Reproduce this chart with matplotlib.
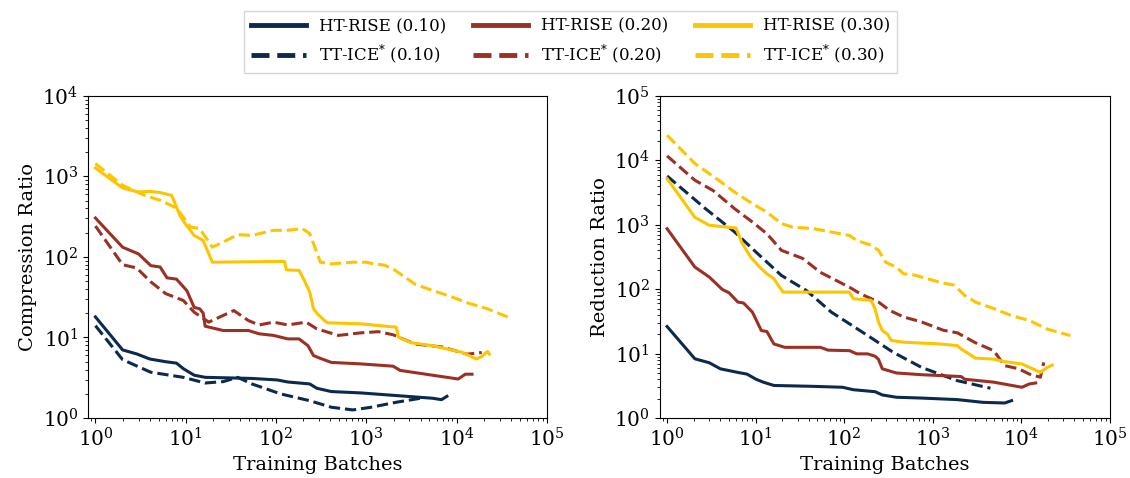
import matplotlib
matplotlib.use("Agg")
import matplotlib.pyplot as plt
from matplotlib.lines import Line2D
import numpy as np

plt.rcParams['font.family'] = 'DejaVu Serif'
plt.rcParams['mathtext.fontset'] = 'dejavuserif'

navy = '#0b2a4e'
red = '#9b3124'
gold = '#fcc500'

# ---- compression ratio (left) ----
cr_ht10_x = [1, 2, 2.86, 4, 6, 7.9, 9.4, 12.4, 16.4, 54, 103, 135, 236, 283, 410, 860, 2150, 5400, 6800, 7800]
cr_ht10_y = [18, 7.0, 6.25, 5.4, 5.0, 4.8, 4.1, 3.4, 3.2, 3.1, 2.97, 2.8, 2.65, 2.34, 2.13, 2.05, 1.9, 1.76, 1.69, 1.86]
cr_tt10_x = [1, 2, 4.1, 9.4, 16.4, 26, 37.6, 54, 113, 236, 410, 710, 1130, 2150, 4500]
cr_tt10_y = [14, 5.3, 3.7, 3.2, 2.72, 2.83, 3.2, 2.65, 1.99, 1.64, 1.36, 1.26, 1.36, 1.57, 1.8]

cr_ht20_x = [1, 2, 3, 4.1, 5.2, 6.2, 7.9, 10.3, 12.4, 14.3, 15.6, 16.4, 26, 49.5, 65, 94, 135, 180, 226, 260,
             310, 410, 860, 1980, 2370, 5400, 10400, 12500, 14800]
cr_ht20_y = [304, 132, 109, 78, 75, 55, 53, 38, 23.6, 22.7, 20, 13.8, 12.2, 12.2, 11.1, 10.6, 9.6, 9.6, 7.9, 5.96,
             5.5, 4.9, 4.7, 4.4, 3.9, 3.4, 3.05, 3.5, 3.5]
cr_tt20_x = [1, 2, 2.86, 4.1, 6, 9.4, 12.4, 18, 34, 49.5, 65, 94, 135, 215, 283, 490, 860, 1360, 1980, 3450,
             7000, 13000, 19000]
cr_tt20_y = [242, 80, 73, 49, 35, 28.8, 20.6, 15.5, 21.6, 16.2, 14.3, 15.5, 14.3, 15.5, 12.8, 10.6, 11.4, 11.8,
             10.8, 8.3, 7.6, 6.2, 6.5]

cr_ht30_x = [1, 2, 3, 4.1, 5.2, 7, 8.6, 9.9, 12.4, 15.6, 19.7, 124, 130, 180, 206, 236, 260, 283, 344, 375,
             860, 2150, 2270, 3130, 5400, 11400, 13600, 16500, 19000, 22000, 23000]
cr_ht30_y = [1270, 718, 640, 650, 630, 580, 328, 257, 185, 160, 86, 88, 69, 68, 51, 36.6, 22.7, 20, 16.2, 15.2,
             14.8, 13.4, 10.1, 8.6, 7.9, 6.56, 6.0, 5.4, 5.8, 6.7, 6.2]
cr_tt30_x = [1, 2, 3.4, 5.2, 7.9, 11.3, 14.3, 19.7, 26, 37.6, 54, 94, 135, 195, 236, 310, 410, 710, 1000, 1200,
             1590, 1980, 3450, 5400, 8500, 13000, 22000, 37000]
cr_tt30_y = [1440, 775, 590, 505, 405, 235, 225, 132, 153, 189, 185, 214, 214, 225, 195, 86, 82, 86, 86, 82,
             79, 71, 46, 38.3, 32.5, 27, 22.7, 17.9]

# ---- reduction ratio (right) ----
rr_ht10_x = [1, 2.06, 3, 4, 6.3, 8, 10.1, 12.2, 16.1, 45, 96, 127, 224, 270, 390, 750, 1900, 3700, 6500, 7800]
rr_ht10_y = [26.3, 8.3, 7.2, 5.8, 5.1, 4.8, 4.0, 3.6, 3.2, 3.1, 3.0, 2.75, 2.56, 2.28, 2.1, 2.04, 1.93, 1.75,
             1.71, 1.86]
rr_tt10_x = [1, 2.72, 5.8, 10.1, 19.6, 37.6, 72, 184, 357, 750, 1900, 4500]
rr_tt10_y = [5700, 1770, 770, 376, 163, 95, 43.8, 19.1, 10.5, 6.1, 3.8, 2.9]

rr_ht20_x = [1, 2.06, 3, 4.2, 5, 6.3, 7.3, 9.2, 11.6, 13.4, 16.1, 21.4, 54, 66, 115, 139, 184, 224, 245, 270,
             390, 750, 2100, 2300, 4900, 10200, 12400, 14600]
rr_ht20_y = [867, 220, 154, 99, 88, 63, 61, 44, 22.8, 22, 14.1, 12.5, 12.5, 11.3, 11.1, 9.9, 9.9, 9.1, 8.1, 5.8,
             5.0, 4.7, 4.4, 4.0, 3.6, 3.0, 3.38, 3.5]
rr_tt20_x = [1, 2.06, 3.3, 5.8, 9.2, 13.4, 19.6, 34, 41, 54, 115, 152, 245, 325, 470, 750, 1320, 1900, 3050,
             4900, 6500, 9400, 12400, 16500, 18000]
rr_tt20_y = [11700, 4900, 3400, 1770, 1100, 725, 400, 300, 245, 182, 107, 85, 63, 47, 37, 31, 23, 21, 14.7,
             11.1, 6.5, 5.8, 4.8, 4.3, 7.3]

rr_ht30_x = [1, 2.06, 3, 4.35, 6, 7, 8.8, 11.1, 13.4, 16.1, 20.4, 115, 127, 202, 224, 245, 270, 310, 340, 470,
             1200, 1900, 2100, 3050, 4900, 6500, 10200, 13500, 16500, 19700, 22500]
rr_ht30_y = [5190, 1300, 980, 930, 890, 525, 315, 220, 173, 145, 90, 90, 71, 67, 49, 30.7, 22.8, 20, 16, 15,
             14.1, 13.3, 11.8, 8.5, 8.2, 7.5, 6.9, 5.8, 5.1, 6.1, 6.6]
rr_tt30_x = [1, 2.06, 3.6, 5.8, 9.2, 13.4, 19.6, 26, 45, 115, 139, 202, 245, 295, 390, 470, 630, 1200, 1750,
             2300, 3050, 4900, 7700, 12400, 19700, 36000]
rr_tt30_y = [24500, 8900, 5200, 3200, 2120, 1570, 1040, 920, 870, 680, 570, 480, 400, 262, 218, 173, 165, 128,
             115, 80, 63, 50, 39, 32.6, 24, 19]

fig = plt.figure(figsize=(11.3, 4.78), dpi=100)
ax1 = fig.add_axes([0.078, 0.1255, 0.406, 0.674])
ax2 = fig.add_axes([0.584, 0.1255, 0.398, 0.674])

lw = 2.2
left = [(cr_ht10_x, cr_ht10_y, navy, '-', 'HT-RISE (0.10)'),
        (cr_tt10_x, cr_tt10_y, navy, '--', r'TT-ICE$^{*}$ (0.10)'),
        (cr_ht20_x, cr_ht20_y, red, '-', 'HT-RISE (0.20)'),
        (cr_tt20_x, cr_tt20_y, red, '--', r'TT-ICE$^{*}$ (0.20)'),
        (cr_ht30_x, cr_ht30_y, gold, '-', 'HT-RISE (0.30)'),
        (cr_tt30_x, cr_tt30_y, gold, '--', r'TT-ICE$^{*}$ (0.30)')]
right = [(rr_ht10_x, rr_ht10_y, navy, '-'),
         (rr_tt10_x, rr_tt10_y, navy, '--'),
         (rr_ht20_x, rr_ht20_y, red, '-'),
         (rr_tt20_x, rr_tt20_y, red, '--'),
         (rr_ht30_x, rr_ht30_y, gold, '-'),
         (rr_tt30_x, rr_tt30_y, gold, '--')]

for x, y, c, ls, lab in left:
    ax1.plot(x, y, color=c, ls=ls, lw=lw)
for x, y, c, ls in right:
    ax2.plot(x, y, color=c, ls=ls, lw=lw)

for ax, top, lab in [(ax1, 1e4, 'Compression Ratio'), (ax2, 1e5, 'Reduction Ratio')]:
    ax.set_xscale('log')
    ax.set_yscale('log')
    ax.set_xlim(0.83, 1e5)
    ax.set_ylim(1, top)
    ax.set_xlabel('Training Batches', fontsize=14)
    ax.set_ylabel(lab, fontsize=14)
    ax.tick_params(labelsize=14.5)

handles = [Line2D([], [], color=c, ls=ls, lw=3.5) for _, _, c, ls, _ in left]
labels = [lab for *_, lab in left]
fig.legend(handles, labels, loc='upper center',
           bbox_to_anchor=(0.505, 0.995), ncol=3, fontsize=12, fancybox=False,
           edgecolor='#cccccc', handlelength=3.3, columnspacing=1.6)

fig.savefig('out.png', dpi=100)
